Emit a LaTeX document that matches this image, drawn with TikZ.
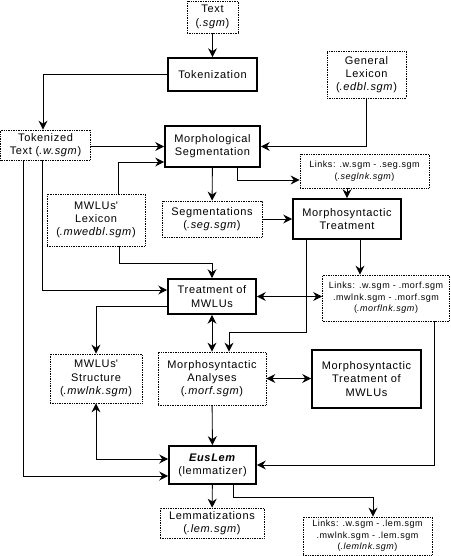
\documentclass[tikz,border=0pt]{standalone}
\usepackage{fontspec}
\setmainfont{Liberation Sans}[LetterSpace=6]
\usetikzlibrary{arrows.meta}

\begin{document}
\begin{tikzpicture}[x=1pt, y=-1pt, line width=0.9pt,
  >={Stealth[length=9pt,width=9pt,inset=3pt]}]
\tikzstyle{process}=[draw,line width=1.6pt,align=center,inner sep=0pt,font=\fontsize{11}{13.3}\selectfont]
\tikzstyle{file}=[draw,densely dotted,line width=0.7pt,align=center,inner sep=0pt,font=\fontsize{11}{13.3}\selectfont]
\tikzstyle{links}=[file,font=\fontsize{9}{11.5}\selectfont]
\useasboundingbox (0,0) rectangle (450,556);

% files and processes
\node[file,minimum width=51pt,minimum height=32pt] (text) at (212.5,17) {Text\\(\textit{.sgm})};
\node[process,minimum width=89pt,minimum height=33pt] (tok) at (212.5,74.5) {Tokenization};
\node[file,minimum width=79pt,minimum height=47pt] (genlex) at (366.5,74.5) {General\\Lexicon\\(\textit{.edbl.sgm})};
\node[file,minimum width=90pt,minimum height=30pt] (toktext) at (45.5,145) {Tokenized\\Text (\textit{.w.sgm})};
\node[process,minimum width=95pt,minimum height=41pt] (morphseg) at (212.5,146.5) {Morphological\\Segmentation};
\node[links,minimum width=129pt,minimum height=34pt] (seglnk) at (364.5,171) {Links: .w.sgm - .seg.sgm\\(\textit{.seglnk.sgm})};
\node[file,minimum width=100pt,minimum height=36pt] (segm) at (212,219) {Segmentations\\(\textit{.seg.sgm})};
\node[process,minimum width=108pt,minimum height=40pt] (mt) at (347,219) {Morphosyntactic\\Treatment};
\node[file,minimum width=98pt,minimum height=52pt] (mwlex) at (96,220) {MWLUs\textquotesingle\\Lexicon\\(\textit{.mwedbl.sgm})};
\node[process,minimum width=88pt,minimum height=35pt] (tmwlu) at (212,296.5) {Treatment of\\MWLUs};
\node[links,minimum width=127pt,minimum height=46pt] (morflnk) at (386,298) {Links: .w.sgm - .morf.sgm\\.mwlnk.sgm - .morf.sgm\\(\textit{.morflnk.sgm})};
\node[file,minimum width=92pt,minimum height=49pt] (mwstruct) at (96,378.5) {MWLUs\textquotesingle\\Structure\\(\textit{.mwlnk.sgm})};
\node[file,minimum width=108pt,minimum height=53pt] (morfan) at (212,378.5) {Morphosyntactic\\Analyses\\(\textit{.morf.sgm})};
\node[process,minimum width=109pt,minimum height=58pt] (mtmwlu) at (366.5,379) {Morphosyntactic\\Treatment of\\MWLUs};
\node[process,minimum width=87pt,minimum height=38pt] (euslem) at (212.5,465) {\textbf{\textit{EusLem}}\\(lemmatizer)};
\node[file,minimum width=104pt,minimum height=30pt] (lem) at (212,523) {Lemmatizations\\(\textit{.lem.sgm})};
\node[links,minimum width=129pt,minimum height=38pt] (lemlnk) at (367.5,536) {Links: .w.sgm - .lem.sgm\\.mwlnk.sgm - .lem.sgm\\(\textit{.lemlnk.sgm})};

% straight connectors
\foreach \source/\dest in {text/tok,morphseg/segm,segm/mt,morfan/euslem,euslem/lem}
  \draw[->] (\source) -- (\dest);
\draw[<->] (tmwlu) -- (morfan);
\draw[<->] (morfan.east) -- (morfan.east -| mtmwlu.west);
\draw[<->] (tmwlu.east) -- (tmwlu.east -| morflnk.west);

% elbow connectors
\draw[->] (tok.west) -| ([xshift=-2.5pt]toktext.north);
\draw[->] (toktext.east |- morphseg.west) -- (morphseg.west);
\draw[->] ([xshift=22pt]mwlex.north) |- ([yshift=-15.5pt]morphseg.west);
\draw[->] (genlex.south) |- (morphseg.east);
\draw[->] ([xshift=24.5pt]morphseg.south) |- ([yshift=-9pt]seglnk.west);
\draw[->] (seglnk.south -| mt.north) -- (mt.north);
\draw[->] ([xshift=23pt]mwlex.south) -- ++(0,17) -| (tmwlu.north);
\draw[->] ([xshift=-3.5pt]toktext.south) |- ([yshift=6.5pt]tmwlu.west);
\draw[->] ([xshift=-22.5pt]toktext.south) |- ([yshift=-11pt]euslem.west);
\draw[->] ([xshift=13pt]mt.south) -- ([xshift=13pt]mt.south |- morflnk.north);
\draw[->] ([xshift=-41pt]mt.south) |- ([xshift=17pt,yshift=19pt]morfan.north) -- ([xshift=17pt]morfan.north);
\draw[->] ([yshift=-10pt]tmwlu.west) -| (mwstruct.north);
\draw[<->] (mwstruct.south) |- ([yshift=6pt]euslem.west);
\draw[->] ([xshift=48pt]morflnk.south) |- (euslem.east);
\draw[->] ([xshift=21pt]euslem.south) -- ++(0,13) -| ([xshift=5.5pt]lemlnk.north);
\end{tikzpicture}
\end{document}
